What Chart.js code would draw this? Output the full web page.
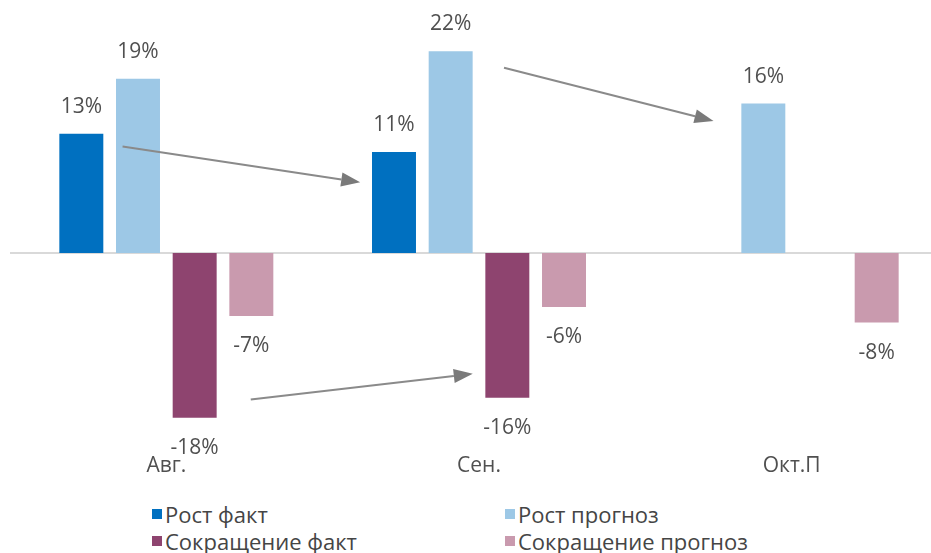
<!DOCTYPE html>
<html>
<head>
<meta charset="utf-8">
<script src="https://cdn.jsdelivr.net/npm/chart.js@4.4.1/dist/chart.umd.min.js"></script>
<style>
    html, body { margin: 0; padding: 0; background: #fff; width: 931px; height: 553px; overflow: hidden; }
    #wrap { position: absolute; left: 0; top: 0; width: 950px; height: 482px; }
    #legend { position: absolute; left: 0; top: 500px; width: 931px; height: 53px;
              font-family: 'Open Sans', sans-serif; font-size: 22px; color: #454545; }
    .item { position: absolute; height: 26px; display: flex; align-items: center; white-space: nowrap; }
    .box { width: 10px; height: 10px; margin-right: 3px; }
</style>
</head>
<body>
<div id="wrap"><canvas id="chart" width="950" height="482"></canvas></div>
<div id="legend"></div>
<script>
// Данные
const categories = ['Авг.', 'Сен.', 'Окт.П'];
const seriesNames = ['Рост факт', 'Рост прогноз', 'Сокращение факт', 'Сокращение прогноз'];
const rostFakt = [13, 11, null];
const rostPrognoz = [19, 22, 16.3];
const sokrFakt = [-18, -15.8, null];
const sokrPrognoz = [-6.9, -5.9, -7.6];
const colors = ['#0070C0', '#9DC8E6', '#8E446F', '#C99AAE'];

// стрелки: [категория, значение] начала и конца
const arrows = [
    [[-0.14, 11.6], [0.62, 7.7]],
    [[1.08, 20.2], [1.75, 14.4]],
    [[0.27, -16.0], [0.98, -13.2]]
];

const seriesValues = [rostFakt, rostPrognoz, sokrFakt, sokrPrognoz];

// линия нуля
const zeroLine = {
    id: 'zeroLine',
    beforeDatasetsDraw(chart) {
        const ctx = chart.ctx;
        const y = chart.scales.y.getPixelForValue(0);
        ctx.save();
        ctx.strokeStyle = '#d9d9d9';
        ctx.lineWidth = 2;
        ctx.beginPath();
        ctx.moveTo(10, y);
        ctx.lineTo(931, y);
        ctx.stroke();
        ctx.restore();
    }
};

// подписи значений
const valueLabels = {
    id: 'valueLabels',
    afterDatasetsDraw(chart) {
        const ctx = chart.ctx;
        ctx.save();
        ctx.font = '21px "Open Sans"';
        ctx.fillStyle = '#505050';
        ctx.textAlign = 'center';
        ctx.textBaseline = 'middle';
        chart.data.datasets.forEach((ds, i) => {
            const meta = chart.getDatasetMeta(i);
            meta.data.forEach((bar, j) => {
                const v = ds.data[j];
                if (v === null) return;
                const y = v >= 0 ? bar.y - 27 : bar.y + 30;
                ctx.fillText(Math.round(v) + '%', bar.x, y);
            });
        });
        ctx.restore();
    }
};

// стрелки
const arrowPlugin = {
    id: 'arrows',
    afterDatasetsDraw(chart) {
        const ctx = chart.ctx;
        const xs = chart.scales.x, ys = chart.scales.y;
        const x0 = xs.getPixelForValue(0), step = xs.getPixelForValue(1) - x0;
        const px = p => [x0 + p[0] * step, ys.getPixelForValue(p[1])];
        ctx.save();
        ctx.strokeStyle = '#8a8a8a';
        ctx.fillStyle = '#7a7a7a';
        ctx.lineWidth = 2;
        arrows.forEach(a => {
            const [sx, sy] = px(a[0]);
            const [ex, ey] = px(a[1]);
            const ang = Math.atan2(ey - sy, ex - sx);
            const len = 19, half = 7;
            const bx = ex - len * Math.cos(ang), by = ey - len * Math.sin(ang);
            ctx.beginPath();
            ctx.moveTo(sx, sy);
            ctx.lineTo(bx, by);
            ctx.stroke();
            ctx.beginPath();
            ctx.moveTo(ex, ey);
            ctx.lineTo(bx + half * Math.sin(ang), by - half * Math.cos(ang));
            ctx.lineTo(bx - half * Math.sin(ang), by + half * Math.cos(ang));
            ctx.closePath();
            ctx.fill();
        });
        ctx.restore();
    }
};

const ctx = document.getElementById('chart').getContext('2d');
const chart = new Chart(ctx, {
    type: 'bar',
    data: {
        labels: categories,
        datasets: seriesNames.map((name, i) => ({
            label: name,
            data: seriesValues[i],
            backgroundColor: colors[i],
            categoryPercentage: 0.725,
            barPercentage: 0.776
        }))
    },
    options: {
        responsive: false,
        animation: false,
        devicePixelRatio: 1,
        layout: { padding: { left: 10, right: 2, top: 0, bottom: 0 } },
        plugins: {
            legend: { display: false },
            tooltip: { enabled: false }
        },
        scales: {
            x: {
                grid: { display: false, drawTicks: false },
                border: { display: false },
                ticks: {
                    color: '#505050',
                    font: { family: 'Open Sans', size: 21 },
                    padding: 3
                }
            },
            y: {
                display: false,
                min: -21.6,
                max: 27.6
            }
        }
    },
    plugins: [zeroLine, valueLabels, arrowPlugin]
});

// легенда
const legendPos = [[152, 1], [505, 1], [152, 28], [505, 28]];
const legend = document.getElementById('legend');
seriesNames.forEach((name, i) => {
    const item = document.createElement('div');
    item.className = 'item';
    item.style.left = legendPos[i][0] + 'px';
    item.style.top = legendPos[i][1] + 'px';
    item.innerHTML = '<span class="box" style="background:' + colors[i] + '"></span>' + name;
    legend.appendChild(item);
});
</script>
</body>
</html>
